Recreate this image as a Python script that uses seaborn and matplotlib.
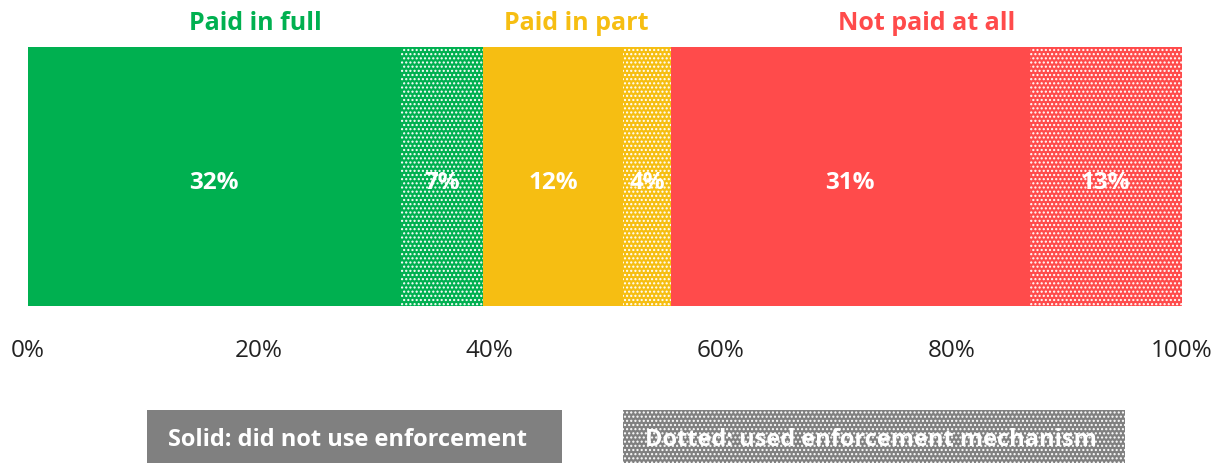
import numpy as np
import pandas as pd
import seaborn as sns
import matplotlib.pyplot as plt
from matplotlib.patches import Rectangle

# Data (share of cases, %)
segments = ["Paid in full - solid", "Paid in full - dotted",
            "Paid in part - solid", "Paid in part - dotted",
            "Not paid at all - solid", "Not paid at all - dotted"]
shares = [32.3, 7.1, 12.2, 4.1, 31.1, 13.2]
share_labels = ["32%", "7%", "12%", "4%", "31%", "13%"]
dotted = [False, True, False, True, False, True]
groups = ["Paid in full", "Paid in part", "Not paid at all"]
group_colors = ["#00B050", "#F6BE12", "#FF4B4B"]
seg_colors = ["#00B050", "#00B050", "#F6BE12", "#F6BE12", "#FF4B4B", "#FF4B4B"]
tick_values = [0, 20, 40, 60, 80, 100]
tick_labels = ["0%", "20%", "40%", "60%", "80%", "100%"]

sns.set_style("white")
plt.rcParams["font.family"] = ["Open Sans", "DejaVu Sans"]
plt.rcParams["hatch.color"] = "white"
plt.rcParams["hatch.linewidth"] = 1.0

fig = plt.figure(figsize=(12.28, 4.64), dpi=100)
ax = fig.add_axes([28 / 1228, 157 / 464, 1154 / 1228, 259 / 464])

df = pd.DataFrame({"segment": segments, "share": shares, "dotted": dotted, "color": seg_colors})
df["end"] = df["share"].cumsum()
df["start"] = df["end"] - df["share"]
df["row"] = "all"

# stacked bar: draw cumulative ends from the longest to the shortest
for i in reversed(range(len(df))):
    row = df.iloc[[i]]
    sns.barplot(data=row, x="end", y="row", orient="h", color=row["color"].iloc[0],
                width=1.0, saturation=1, edgecolor="white", linewidth=0,
                hatch="...." if row["dotted"].iloc[0] else None, ax=ax)

for k, r in df.iterrows():
    ax.text(r["start"] + r["share"] / 2, 0.02, share_labels[k], ha="center", va="center",
            color="white", fontsize=17.5, fontweight="bold")

# group titles
ends = df["end"].values
group_bounds = [(0, ends[1]), (ends[1], ends[3]), (ends[3], ends[5])]
for g, c, (a, b) in zip(groups, group_colors, group_bounds):
    ax.text((a + b) / 2, -0.595, g, ha="center", va="center", color=c,
            fontsize=18, fontweight="bold")

ax.set_xlim(0, 100)
ax.set_ylim(0.5, -0.5)
ax.set_xticks(tick_values)
ax.set_xticklabels(tick_labels, fontsize=17.5, color="#222222")
ax.tick_params(axis="x", length=0, pad=23)
ax.set_yticks([])
ax.set_xlabel("")
ax.set_ylabel("")
sns.despine(ax=ax, left=True, bottom=True)

# key boxes at the bottom
fig.add_artist(Rectangle((147 / 1228, 0), 415 / 1228, 53 / 464, transform=fig.transFigure,
                         facecolor="#808080", edgecolor="none"))
fig.text(348 / 1228, 24 / 464, "Solid: did not use enforcement", ha="center", va="center",
         color="white", fontsize=17, fontweight="bold")
fig.add_artist(Rectangle((623 / 1228, 0), 502 / 1228, 53 / 464, transform=fig.transFigure,
                         facecolor="#808080", edgecolor="white", linewidth=0, hatch="...."))
fig.text(871 / 1228, 24 / 464, "Dotted: used enforcement mechanism", ha="center", va="center",
         color="white", fontsize=17, fontweight="bold")

fig.savefig("out.png", dpi=100)
